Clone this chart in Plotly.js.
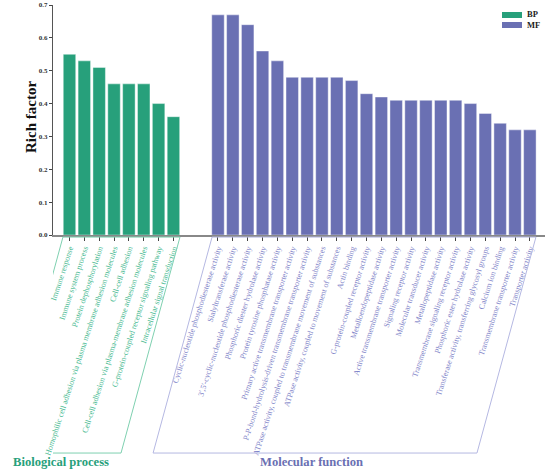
<!DOCTYPE html>
<html>
<head>
<meta charset="utf-8">
<script src="https://cdn.plot.ly/plotly-3.0.1.min.js"></script>
<style>html,body{margin:0;padding:0;background:#fff}#chart{width:550px;height:475px}</style>
</head>
<body>
<div id="chart"></div>
<script>
const bpTerms = [
  "Immune response",
  "Immune system process",
  "Protein dephosphorylation",
  "Homophilic cell adhesion via plasma membrane adhesion molecules",
  "Cell-cell adhesion",
  "Cell-cell adhesion via plasma-membrane adhesion molecules",
  "G-protein-coupled receptor signaling pathway",
  "Intracellular signal transduction"
];
const bpValues = [0.55, 0.53, 0.51, 0.46, 0.46, 0.46, 0.40, 0.36];

const mfTerms = [
  "Cyclic-nucleotide phosphodiesterase activity",
  "Sialyltransferase activity",
  "3',5'-cyclic-nucleotide phosphodiesterase activity",
  "Phosphoric diester hydrolase activity",
  "Protein tyrosine phosphatase activity",
  "Primary active transmembrane transporter activity",
  "P-P-bond-hydrolysis-driven transmembrane transporter activity",
  "ATPase activity, coupled to transmembrane movement of substances",
  "ATPase activity, coupled to movement of substances",
  "Actin binding",
  "G-protein-coupled receptor activity",
  "Metalloendopeptidase activity",
  "Active transmembrane transporter activity",
  "Signaling receptor activity",
  "Molecular transducer activity",
  "Metallopeptidase activity",
  "Transmembrane signaling receptor activity",
  "Phosphoric ester hydrolase activity",
  "Transferase activity, transferring glycosyl groups",
  "Calcium ion binding",
  "Transmembrane transporter activity",
  "Transporter activity"
];
const mfValues = [0.67, 0.67, 0.64, 0.56, 0.53, 0.48, 0.48, 0.48, 0.48, 0.47, 0.43, 0.42,
                  0.41, 0.41, 0.41, 0.41, 0.41, 0.40, 0.37, 0.34, 0.32, 0.32];

const groupNames = ["Biological process", "Molecular function"];
const seriesNames = ["BP", "MF"];
const yTicks = [0.0, 0.1, 0.2, 0.3, 0.4, 0.5, 0.6, 0.7];
const yTitle = "Rich factor";

const bpColor = "#27a07b", mfColor = "#6a70b3";
const bpText = "#45b98f", mfText = "#7f85c9";
const bpBox = "#7fd0b0", mfBox = "#b5b8e2";
const FONT = "Liberation Serif";

const gap = 2;
const bpX = bpTerms.map((_, i) => i);
const mfX = mfTerms.map((_, i) => bpTerms.length + gap + i);

const tickvals = bpX.concat(mfX);
const ticktext = bpTerms.map(t => '<span style="color:' + bpText + '">' + t + '</span>')
  .concat(mfTerms.map(t => '<span style="color:' + mfText + '">' + t + '</span>'));

const traces = [
  {type: "bar", name: seriesNames[0], x: bpX, y: bpValues, width: 0.84,
   marker: {color: bpColor, line: {color: "rgba(255,255,255,0.7)", width: 0.6}}, hoverinfo: "none"},
  {type: "bar", name: seriesNames[1], x: mfX, y: mfValues, width: 0.84,
   marker: {color: mfColor, line: {color: "rgba(255,255,255,0.7)", width: 0.6}}, hoverinfo: "none"}
];

// plot area: x 53..545 px, y 5..235 px
const px = p => (p - 53) / 492;
const py = p => (235 - p) / 230;

const shift = 3.97, topY = -0.009, botY = -0.948;
function para(x0, x1, color) {
  return {type: "path", xref: "x", yref: "paper",
    path: "M " + x0 + "," + topY + " L " + x1 + "," + topY + " L " + (x1 - shift) + "," + botY +
          " L " + (x0 - shift) + "," + botY + " Z",
    line: {color: color, width: 1}, fillcolor: "rgba(0,0,0,0)"};
}
const bpL = bpX[0] - 0.44, bpR = bpX[bpX.length - 1] + 0.44;
const mfL = mfX[0] - 0.40, mfR = mfX[mfX.length - 1] + 0.41;

function swatch(y0, y1, color) {
  return {type: "rect", xref: "paper", yref: "paper", x0: px(502), x1: px(522), y0: py(y1), y1: py(y0),
          line: {width: 0}, fillcolor: color};
}

const layout = {
  width: 550, height: 475,
  margin: {l: 53, r: 5, t: 5, b: 240},
  paper_bgcolor: "#fff", plot_bgcolor: "#fff",
  barmode: "overlay",
  font: {family: FONT, color: "#222"},
  showlegend: false,
  xaxis: {range: [-1.11, 32.02], tickmode: "array", tickvals: tickvals, ticktext: ticktext,
          tickangle: -72, ticks: "outside", ticklen: 4, tickwidth: 1, tickcolor: "#444",
          tickfont: {family: FONT, size: 8}, showgrid: false, zeroline: false,
          showline: true, linecolor: "#888", linewidth: 1.5, fixedrange: true, automargin: false},
  yaxis: {range: [0, 0.7], tickmode: "array", tickvals: yTicks,
          ticktext: yTicks.map(v => v.toFixed(1)),
          ticks: "outside", ticklen: 3, tickwidth: 1, tickcolor: "#444",
          tickfont: {family: FONT, size: 7, weight: "bold", color: "#333"},
          showgrid: false, zeroline: false, showline: true, linecolor: "#555", linewidth: 1,
          fixedrange: true, automargin: false},
  shapes: [para(bpL, bpR, bpBox), para(mfL, mfR, mfBox),
           swatch(12, 18, bpColor), swatch(22, 28, mfColor)],
  annotations: [
    {text: "<b>" + yTitle + "</b>", xref: "paper", yref: "paper", x: px(31), y: py(117),
     xanchor: "center", yanchor: "middle", textangle: -90, showarrow: false,
     font: {family: FONT, size: 15, color: "#111"}},
    {text: "<b>" + groupNames[0] + "</b>", xref: "paper", yref: "paper", x: px(61), y: py(462),
     xanchor: "center", yanchor: "middle", showarrow: false,
     font: {family: FONT, size: 12.6, color: bpColor}},
    {text: "<b>" + groupNames[1] + "</b>", xref: "paper", yref: "paper", x: px(311.5), y: py(462),
     xanchor: "center", yanchor: "middle", showarrow: false,
     font: {family: FONT, size: 12.6, color: mfColor}},
    {text: "<b>" + seriesNames[0] + "</b><br><b>" + seriesNames[1] + "</b>", xref: "paper", yref: "paper",
     x: px(525), y: py(20), xanchor: "left", yanchor: "middle", align: "left", showarrow: false,
     font: {family: FONT, size: 8.5, color: "#222"}}
  ]
};

Plotly.newPlot("chart", traces, layout, {displayModeBar: false, staticPlot: true});
</script>
</body>
</html>
